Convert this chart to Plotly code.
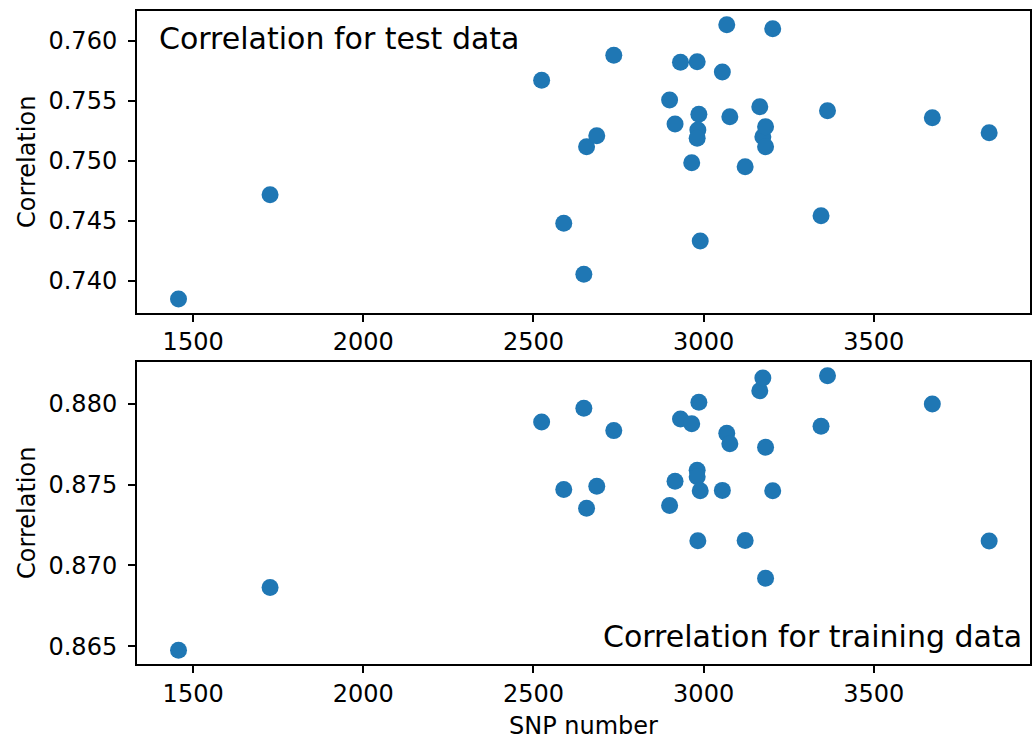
import plotly.graph_objects as go
from plotly.subplots import make_subplots

snp_number = [1457, 1726, 2524, 2589, 2648, 2656, 2686, 2736, 2900, 2916,
              2932, 2965, 2981, 2986, 2983, 2981, 2990, 3055, 3068, 3077,
              3122, 3165, 3174, 3182, 3182, 3203, 3345, 3364, 3672, 3839]

corr_test = [0.73850, 0.74719, 0.75672, 0.74481, 0.74056, 0.75119, 0.75211, 0.75881, 0.75508, 0.75308,
             0.75822, 0.74986, 0.75828, 0.75389, 0.75258, 0.75189, 0.74333, 0.75742, 0.76136, 0.75369,
             0.74953, 0.75453, 0.75203, 0.75286, 0.75119, 0.76103, 0.74544, 0.75419, 0.75361, 0.75236]

corr_train = [0.86475, 0.86864, 0.87888, 0.87471, 0.87973, 0.87355, 0.87490, 0.87835, 0.87372, 0.87521,
              0.87907, 0.87878, 0.87589, 0.88011, 0.87153, 0.87549, 0.87463, 0.87465, 0.87818, 0.87754,
              0.87155, 0.88082, 0.88161, 0.87732, 0.86921, 0.87463, 0.87862, 0.88175, 0.88000, 0.87151]

x_ticks = [1500, 2000, 2500, 3000, 3500]
test_ticks = [0.740, 0.745, 0.750, 0.755, 0.760]
train_ticks = [0.865, 0.870, 0.875, 0.880]

COLOR = "#1f77b4"
FONT = "DejaVu Sans"

fig = make_subplots(rows=2, cols=1, vertical_spacing=0.075)

fig.add_trace(go.Scatter(x=snp_number, y=corr_test, mode="markers",
                         marker=dict(color=COLOR, size=17, line=dict(width=0)),
                         showlegend=False), row=1, col=1)
fig.add_trace(go.Scatter(x=snp_number, y=corr_train, mode="markers",
                         marker=dict(color=COLOR, size=17, line=dict(width=0)),
                         showlegend=False), row=2, col=1)

axis_common = dict(showline=True, linecolor="black", linewidth=2, mirror=True,
                   showgrid=False, zeroline=False, ticks="outside", ticklen=7,
                   tickwidth=1.6, tickcolor="black", automargin=False,
                   tickfont=dict(family=FONT, size=24, color="black"))

fig.update_xaxes(**axis_common, range=[1335, 3959], tickvals=x_ticks,
                 ticktext=[str(v) for v in x_ticks], ticklabelstandoff=0)
fig.update_xaxes(title=dict(text="SNP number", font=dict(family=FONT, size=24, color="black"),
                            standoff=11), row=2, col=1)

fig.update_yaxes(**axis_common, ticklabelstandoff=6)
fig.update_yaxes(range=[0.73736, 0.7625], tickvals=test_ticks,
                 ticktext=[f"{v:.3f}" for v in test_ticks],
                 title=dict(text="Correlation", font=dict(family=FONT, size=24, color="black"),
                            standoff=6), row=1, col=1)
fig.update_yaxes(range=[0.86390, 0.88262], tickvals=train_ticks,
                 ticktext=[f"{v:.3f}" for v in train_ticks],
                 title=dict(text="Correlation", font=dict(family=FONT, size=24, color="black"),
                            standoff=6), row=2, col=1)

fig.update_layout(
    width=1034, height=740,
    margin=dict(l=137, r=4, t=11, b=76, autoexpand=False),
    paper_bgcolor="white", plot_bgcolor="white",
    font=dict(family=FONT, size=24, color="black"),
)
fig.layout.yaxis.domain = [0.538, 1.0]
fig.layout.yaxis2.domain = [0.0, 0.463]

fig.add_annotation(text="Correlation for test data", xref="x domain", yref="y domain",
                   x=0.0, y=1.0, xanchor="left", yanchor="top", xshift=20, yshift=-8,
                   showarrow=False, font=dict(family=FONT, size=30, color="black"))
fig.add_annotation(text="Correlation for training data", xref="x2 domain", yref="y2 domain",
                   x=1.0, y=0.0, xanchor="right", yanchor="bottom", xshift=-6, yshift=8,
                   showarrow=False, font=dict(family=FONT, size=30, color="black"))

fig.write_html("out.html")
